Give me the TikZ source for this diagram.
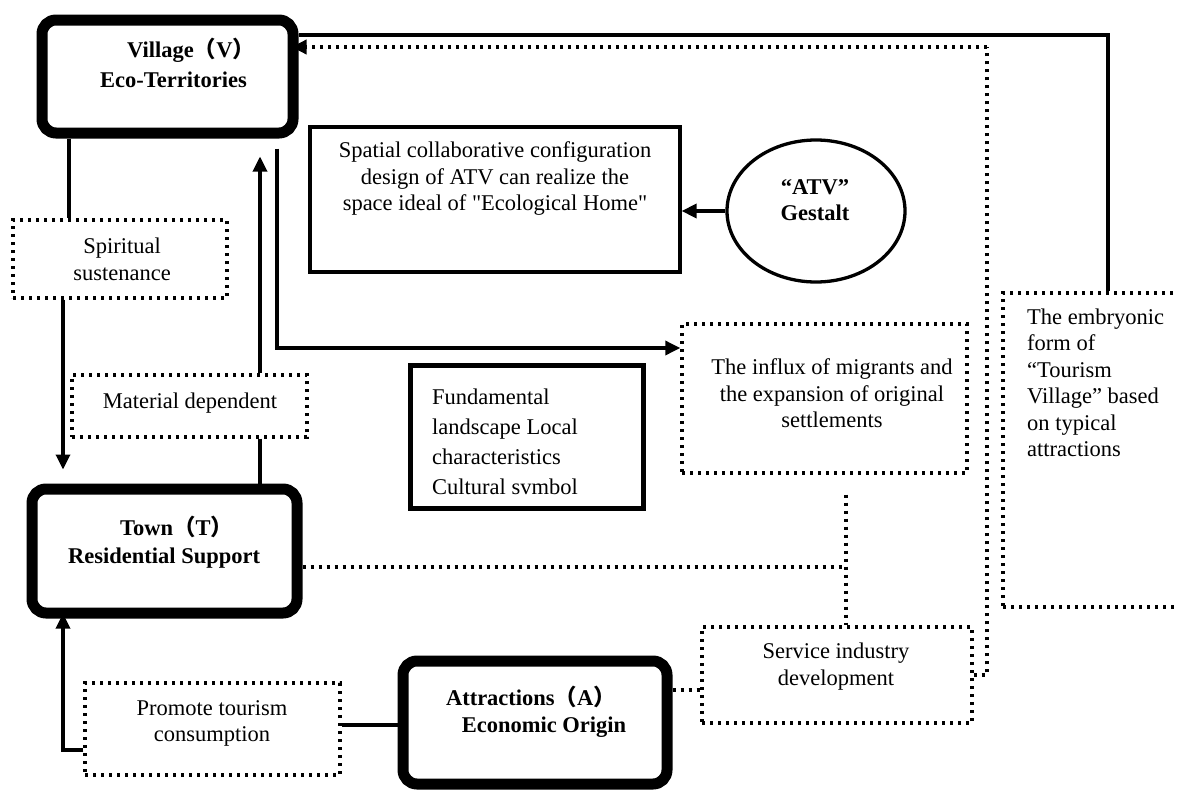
\documentclass[tikz,border=0pt]{standalone}
\usepackage{fontspec}
\setmainfont{Liberation Serif}
\newfontfamily\cjk{Noto Sans CJK SC}
\usetikzlibrary{arrows.meta,shapes.geometric,calc}
\begin{document}
\begin{tikzpicture}[x=1pt,y=-1pt,
  thickbox/.style={draw, line width=11pt, rounded corners=14pt, inner sep=0pt, shape=rectangle},
  solidbox/.style={draw, line width=3.2pt, inner sep=0pt, shape=rectangle},
  dotbox/.style={draw, line width=3.4pt, dash pattern=on 3.2pt off 4.8pt, inner sep=0pt, shape=rectangle},
  txt/.style={font=\fontsize{22.5}{26.5}\selectfont, align=center, inner sep=0pt},
  btxt/.style={font=\fontsize{22.5}{31}\selectfont\bfseries, align=center, inner sep=0pt},
  conn/.style={line width=3.3pt},
  tip/.style={-{Triangle[length=15pt,width=14pt]}},
  arr/.style={conn, tip},
  dotc/.style={line width=3.4pt, dash pattern=on 3.2pt off 4.8pt},
]
\useasboundingbox (0,0) rectangle (1178,790);
\clip (0,0) rectangle (1178,790);

% main boxes
\node[thickbox, minimum width=251pt, minimum height=113pt] (V) at (167.5,76.5) {};
\node[thickbox, minimum width=265pt, minimum height=124pt] (T) at (164.5,551) {};
\node[thickbox, minimum width=264pt, minimum height=123pt] (A) at (535,722.5) {};

% dotted boxes
\node[dotbox, minimum width=214pt, minimum height=78pt] (Sp) at (120,259) {};
\node[dotbox, minimum width=235pt, minimum height=62pt] (M) at (189.5,406) {};
\node[dotbox, minimum width=255pt, minimum height=92pt] (P) at (212.5,729) {};
\node[dotbox, minimum width=285pt, minimum height=149pt] (In) at (824.5,398.5) {};
\node[dotbox, minimum width=270pt, minimum height=96pt] (Sv) at (837,675) {};
\node[dotbox, minimum width=200pt, minimum height=314pt] (Em) at (1103,450) {};

% solid boxes
\node[solidbox, minimum width=370pt, minimum height=145pt] (S) at (495,199.5) {};
\node[solidbox, line width=5pt, minimum width=233pt, minimum height=143pt] (F) at (526.5,436.5) {};
\node[draw, line width=3.3pt, ellipse, inner sep=0pt, minimum width=178pt, minimum height=142pt] (E) at (816,211) {};

% texts
\node[btxt, anchor=west] (Vt1) at (127,50) {Village{\cjk（}V{\cjk）}};
\node[btxt, anchor=west] (Vt2) at (100,80) {Eco-Territories};
\node[btxt, anchor=west] (Tt1) at (120,527) {Town{\cjk（}T{\cjk）}};
\node[btxt, anchor=west] (Tt2) at (68,558) {Residential Support};
\node[btxt] (At1) at (531,697) {Attractions{\cjk（}A{\cjk）}};
\node[btxt] (At2) at (544,727) {Economic Origin};
\node[txt] (Spt) at (122,259.5) {Spiritual\\sustenance};
\node[txt] (Mt) at (190,403) {Material dependent};
\node[txt] (Pt) at (212,723.5) {Promote tourism\\consumption};
\node[txt] (St) at (495,179) {Spatial collaborative configuration\\design of ATV can realize the\\space ideal of \textquotedbl Ecological Home\textquotedbl};
\node[btxt, font=\fontsize{22.5}{26.5}\selectfont\bfseries] (Et) at (815,200) {“ATV”\\Gestalt};
\node[txt, align=left, anchor=west, font=\fontsize{22.5}{30}\selectfont] (Ft) at (432,442) {Fundamental\\landscape Local\\characteristics\\Cultural svmbol};
\node[txt] (Int) at (832,393.5) {The influx of migrants and\\the expansion of original\\settlements};
\node[txt] (Svt) at (836,666.5) {Service industry\\development};
\node[txt, align=left, anchor=west] (Emt) at (1027,383) {The embryonic\\form of\\“Tourism\\Village” based\\on typical\\attractions};

% connectors
\coordinate (J) at (846,567);
\coordinate (R) at (987,47);
\draw[conn] (V.south -| 69,0) -- (Sp.north -| 69,0);
\draw[arr, shorten >=14pt] (Sp.south -| 63,0) -- (T.north -| 63,0);
\draw[arr, shorten >=18pt] (M.north -| 260,0) -- (V.south -| 260,0);
\draw[conn] (M.south -| 260,0) -- (T.north -| 260,0);
\draw[arr, shorten <=10pt] (V.south -| 277,0) |- (In.west |- 0,348);
\draw[arr] (E.west) -- (S.east |- E.west);
\draw[conn] (Em.north -| 1108,0) |- (V.east |- 0,35);
\draw[dotc] (Sv.east |- 0,675) -| (R);
\draw[dotc, tip, shorten >=-7pt] (R) -- (V.east |- R);
\draw[dotc] (T.east |- J) -- (J);
\draw[dotc, shorten <=20pt] (In.south -| J) -- (Sv.north -| J);
\draw[dotc] (A.east |- 0,690) -- (Sv.west |- 0,690);
\draw[conn] (P.east |- 0,725) -- (A.west |- 0,725);
\draw[arr, shorten >=-5pt] (P.west |- 0,750) -| (T.south -| 63,0);
\end{tikzpicture}
\end{document}
